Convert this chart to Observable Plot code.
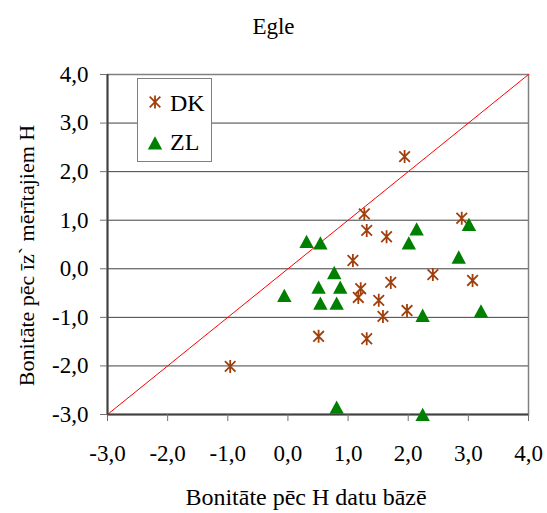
<!DOCTYPE html>
<html><head><meta charset="utf-8">
<script src="https://cdn.jsdelivr.net/npm/d3@7"></script>
<script src="https://cdn.jsdelivr.net/npm/@observablehq/plot@0.6"></script>
<style>
body{margin:0;background:#fff;}
#wrap{position:relative;width:547px;height:513px;font-family:'Liberation Serif','Times New Roman','Liberation Sans',sans-serif;color:#000;}
#title{height:50px;box-sizing:border-box;padding-top:15px;text-align:center;font-size:23px;line-height:23px;}
#chart svg{overflow:visible;}
#legend{position:absolute;left:137px;top:78px;width:75px;height:84px;box-sizing:border-box;border:1px solid #808080;background:#fff;}
#legend svg{position:absolute;overflow:visible;}
#legend span{position:absolute;white-space:nowrap;}
</style>
</head><body>
<div id="wrap">
  <div id="title"></div>
  <div id="chart"></div>
  <div id="legend"></div>
</div>
<script>
// ---- data ----
const titleText = "Egle";
const xLabel = "Bonitāte pēc H datu bāzē";
const yLabel = "Bonitāte pēc īz` mērītajiem H";
const seriesNames = ["DK", "ZL"];
const xTicks = [-3, -2, -1, 0, 1, 2, 3, 4];
const yTicks = [-3, -2, -1, 0, 1, 2, 3, 4];

const dkX = [1.94, 1.27, 1.31, 1.64, 2.89, 1.08, 2.41, 3.07, 1.71, 1.21, 1.17, 1.51, 1.58, 1.98, 0.51, 1.31, -0.96];
const dkY = [2.31, 1.13, 0.79, 0.66, 1.04, 0.17, -0.12, -0.24, -0.28, -0.41, -0.59, -0.65, -0.98, -0.86, -1.39, -1.44, -2.01];

const zlX = [0.31, 0.54, 2.14, 2.01, 3.01, 2.84, 0.77, 0.51, 0.87, -0.06, 0.54, 0.81, 2.24, 3.21, 0.81, 2.24];
const zlY = [0.56, 0.53, 0.82, 0.53, 0.91, 0.24, -0.08, -0.38, -0.38, -0.55, -0.71, -0.71, -0.96, -0.87, -2.85, -3.0];

const diagonal = [-3, 4];

// ---- symbols ----
const asterisk = {
  draw(ctx) {
    const r = 6.5, d = 5.3;
    ctx.moveTo(0, -r); ctx.lineTo(0, r);
    ctx.moveTo(-d, -d); ctx.lineTo(d, d);
    ctx.moveTo(-d, d); ctx.lineTo(d, -d);
  }
};
const triangle = {
  draw(ctx) {
    ctx.moveTo(0, -6.8); ctx.lineTo(7.2, 6.5); ctx.lineTo(-7.2, 6.5); ctx.closePath();
  }
};
const dkColor = "#a0400c", zlColor = "#008000";
const fontStack = "'Liberation Serif','Times New Roman','Liberation Sans',sans-serif";

document.getElementById("title").textContent = titleText;

const dk = dkX.map((x, i) => ({x, y: dkY[i]}));
const zl = zlX.map((x, i) => ({x, y: zlY[i]}));
const fmt = d => d.toFixed(1).replace(".", ",");

const chart = Plot.plot({
  width: 547, height: 463,
  marginTop: 24, marginRight: 19, marginBottom: 99, marginLeft: 107,
  x: {domain: [xTicks[0], xTicks[xTicks.length - 1]]},
  y: {domain: [yTicks[0], yTicks[yTicks.length - 1]]},
  style: {fontFamily: fontStack, fontSize: "23px", color: "#000", background: "#fff", overflow: "visible"},
  marks: [
    Plot.gridY(yTicks, {stroke: "#404040", strokeOpacity: 1}),
    Plot.frame({stroke: "#808080", strokeWidth: 1.5}),
    Plot.ruleX([xTicks[0]], {stroke: "#404040", strokeWidth: 2}),
    Plot.ruleY([yTicks[0]], {stroke: "#404040", strokeWidth: 2}),
    Plot.axisX(xTicks, {tickSize: 7, tickPadding: 23, tickFormat: fmt, stroke: "#707070", fontSize: 23, label: null}),
    Plot.axisY(yTicks, {tickSize: 7, tickPadding: 12, tickFormat: fmt, stroke: "#707070", fontSize: 23, label: null}),
    Plot.line(diagonal, {x: d => d, y: d => d, stroke: "#ff0000", strokeWidth: 1}),
    Plot.dot(dk, {x: "x", y: "y", symbol: asterisk, stroke: dkColor, strokeWidth: 1.8, fill: "none"}),
    Plot.dot(zl, {x: "x", y: "y", symbol: triangle, fill: zlColor, stroke: "none"}),
    Plot.text([xLabel], {text: d => d, frameAnchor: "bottom", textAnchor: "middle", lineAnchor: "middle", dy: 83, dx: -12, fontSize: 24}),
    Plot.text([yLabel], {text: d => d, frameAnchor: "left", textAnchor: "middle", lineAnchor: "middle", rotate: -90, dx: -81, dy: 11, fontSize: 22})
  ]
});
document.getElementById("chart").appendChild(chart);

// ---- legend ----
const legend = document.getElementById("legend");
const items = [
  {name: seriesNames[0], sym: asterisk, fill: "none", stroke: dkColor, cy: 22.7, base: 31},
  {name: seriesNames[1], sym: triangle, fill: zlColor, stroke: "none", cy: 64.3, base: 70}
];
for (const it of items) {
  const p = d3.path(); it.sym.draw(p);
  const svg = d3.create("svg").attr("width", 1).attr("height", 1)
    .style("left", "17px").style("top", it.cy + "px");
  svg.append("path").attr("d", p.toString()).attr("fill", it.fill).attr("stroke", it.stroke).attr("stroke-width", 1.8);
  legend.appendChild(svg.node());
  const s = document.createElement("span");
  s.textContent = it.name;
  s.style.fontSize = "24px"; s.style.lineHeight = "24px";
  s.style.left = "32px"; s.style.top = (it.base - 19) + "px";
  legend.appendChild(s);
}
</script>
</body></html>
